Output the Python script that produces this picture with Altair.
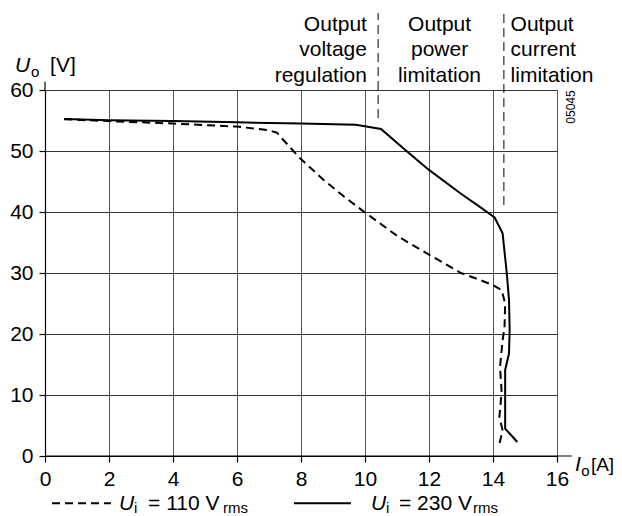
import altair as alt
import pandas as pd

FONT = "Liberation Sans"

# ---- data ----
i_230 = [0.6, 2.0, 4.0, 6.0, 8.0, 9.7, 9.95, 10.5, 11.25, 12.0, 13.0, 13.6, 14.05, 14.3, 14.43, 14.5, 14.52, 14.5, 14.38, 14.38, 14.76]
u_230 = [55.25, 55.05, 54.9, 54.7, 54.5, 54.3, 54.1, 53.6, 50.2, 46.9, 43.0, 40.8, 39.1, 36.5, 30.0, 25.6, 20.7, 16.8, 14.1, 4.5, 2.3]

i_110 = [0.6, 2.0, 4.0, 6.0, 7.0, 7.25, 7.45, 7.97, 8.7, 9.375, 10.03, 11.0, 12.0, 13.0, 13.6, 14.0, 14.27, 14.38, 14.36, 14.3, 14.22, 14.27, 14.2, 14.3, 14.18]
u_110 = [55.2, 54.9, 54.5, 54.0, 53.4, 53.0, 51.8, 48.8, 45.3, 42.4, 39.8, 36.1, 33.0, 30.0, 28.85, 28.0, 27.2, 25.0, 21.0, 19.0, 14.6, 10.5, 6.4, 4.2, 1.5]

x_ticks = [0, 2, 4, 6, 8, 10, 12, 14, 16]
y_ticks = [0, 10, 20, 30, 40, 50, 60]

region_lines = [["Output", "voltage", "regulation"],
                ["Output", "power", "limitation"],
                ["Output", "current", "limitation"]]
region_x = [10.06, 12.33, 14.55]
line_y = [69.67, 65.57, 61.31]

sep_x = [10.41, 14.34]
sep_bottom = [55.4, 41.15]
sep_top = 72.6

# ---- scales / axes ----
XS = alt.Scale(domain=[0, 16], nice=False, zero=False)
YS = alt.Scale(domain=[0, 60], nice=False, zero=False)
XA = alt.Axis(values=x_ticks, title=None, grid=True, gridColor="#555", gridWidth=1,
              domainColor="black", domainWidth=1.2, tickColor="black", tickSize=6,
              tickWidth=1.2, labelFont=FONT, labelFontSize=21, labelColor="black",
              labelPadding=6, labelFlush=False, labelOverlap=False)
YA = alt.Axis(values=y_ticks, title=None, grid=True, gridColor="#333", gridWidth=1,
              domainColor="black", domainWidth=1.2, tickColor="black", tickSize=6,
              tickWidth=1.2, labelFont=FONT, labelFontSize=21, labelColor="black",
              labelPadding=6, labelFlush=False, labelOverlap=False)


def X(f):
    return alt.X(f"{f}:Q", scale=XS, axis=XA)


def Y(f):
    return alt.Y(f"{f}:Q", scale=YS, axis=YA)


curves = pd.concat([
    pd.DataFrame({"I": i_230, "U": u_230, "k": range(len(i_230)), "s": "230"}),
    pd.DataFrame({"I": i_110, "U": u_110, "k": range(len(i_110)), "s": "110"}),
])

line230 = alt.Chart(curves[curves.s == "230"]).mark_line(color="black", strokeWidth=2, clip=False).encode(
    x=X("I"), y=Y("U"), order="k:Q")
line110 = alt.Chart(curves[curves.s == "110"]).mark_line(color="black", strokeWidth=2, strokeDash=[8, 5], clip=False).encode(
    x=X("I"), y=Y("U"), order="k:Q")

sep_df = pd.DataFrame({"x": sep_x, "y": sep_bottom, "y2": [sep_top] * 2})
seps = alt.Chart(sep_df).mark_rule(color="black", strokeWidth=1, strokeDash=[9, 5], clip=False).encode(
    x=X("x"), y=Y("y"), y2="y2:Q")

# axis line extensions
ext_df = pd.DataFrame({"x": [0, 0], "x2": [0, 16.47], "y": [60, 0], "y2": [61.36, 0]})
ext = alt.Chart(ext_df).mark_rule(color="black", strokeWidth=1.2, clip=False).encode(
    x=X("x"), x2="x2:Q", y=Y("y"), y2="y2:Q")

layers = [line110, line230, seps, ext]

aligns = ["right", "center", "left"]
for lines, xx, al in zip(region_lines, region_x, aligns):
    df = pd.DataFrame({"x": [xx] * 3, "y": line_y, "t": lines})
    layers.append(alt.Chart(df).mark_text(align=al, baseline="alphabetic", font=FONT, fontSize=21,
                                          color="black").encode(x=X("x"), y=Y("y"), text="t:N"))

LEG_Y = -8.85
SUB_Y = -9.4
LINE_Y = -7.75

# italic letters (axis titles, legend)
ital = pd.DataFrame({"x": [-0.94, 16.56, 2.31, 10.19], "y": [62.95, -2.46, LEG_Y, LEG_Y],
                     "t": ["U", "I", "U", "U"]})
layers.append(alt.Chart(ital).mark_text(align="left", baseline="alphabetic", font=FONT, fontSize=21,
                                        fontStyle="italic", color="black").encode(x=X("x"), y=Y("y"), text="t:N"))

norm = pd.DataFrame({"x": [0.16, 3.22, 11.06], "y": [62.95, LEG_Y, LEG_Y],
                     "t": ["[V]", "= 110 V", "= 230 V"]})
layers.append(alt.Chart(norm).mark_text(align="left", baseline="alphabetic", font=FONT, fontSize=21,
                                        color="black").encode(x=X("x"), y=Y("y"), text="t:N"))

amp = pd.DataFrame({"x": [17.06], "y": [-2.46], "t": ["[A]"]})
layers.append(alt.Chart(amp).mark_text(align="left", baseline="alphabetic", font=FONT, fontSize=19,
                                       color="black").encode(x=X("x"), y=Y("y"), text="t:N"))

subs = pd.DataFrame({"x": [-0.44, 16.76, 2.78, 5.56, 10.66, 13.375],
                     "y": [62.13, -3.28, SUB_Y, SUB_Y, SUB_Y, SUB_Y],
                     "t": ["o", "o", "i", "rms", "i", "rms"]})
layers.append(alt.Chart(subs).mark_text(align="left", baseline="alphabetic", font=FONT, fontSize=15,
                                        color="black").encode(x=X("x"), y=Y("y"), text="t:N"))

# legend samples
leg = pd.DataFrame({"x": [0.22], "x2": [2.06], "y": [LINE_Y]})
layers.append(alt.Chart(leg).mark_rule(color="black", strokeWidth=2, strokeDash=[8, 5], clip=False).encode(
    x=X("x"), x2="x2:Q", y=Y("y")))
leg2 = pd.DataFrame({"x": [7.78], "x2": [9.56], "y": [LINE_Y]})
layers.append(alt.Chart(leg2).mark_rule(color="black", strokeWidth=2, clip=False).encode(
    x=X("x"), x2="x2:Q", y=Y("y")))

code = pd.DataFrame({"x": [16.44], "y": [57.21], "t": ["05045"]})
layers.append(alt.Chart(code).mark_text(align="center", baseline="middle", angle=270, font=FONT,
                                        fontSize=12, color="black").encode(x=X("x"), y=Y("y"), text="t:N"))

chart = alt.layer(*layers).properties(
    width=512, height=366,
    autosize=alt.AutoSizeParams(type="none"),
    padding={"left": 37, "top": 82, "right": 57, "bottom": 60},
).configure_view(strokeWidth=0)

chart.save("out.html", embed_options={"renderer": "svg", "actions": False})
